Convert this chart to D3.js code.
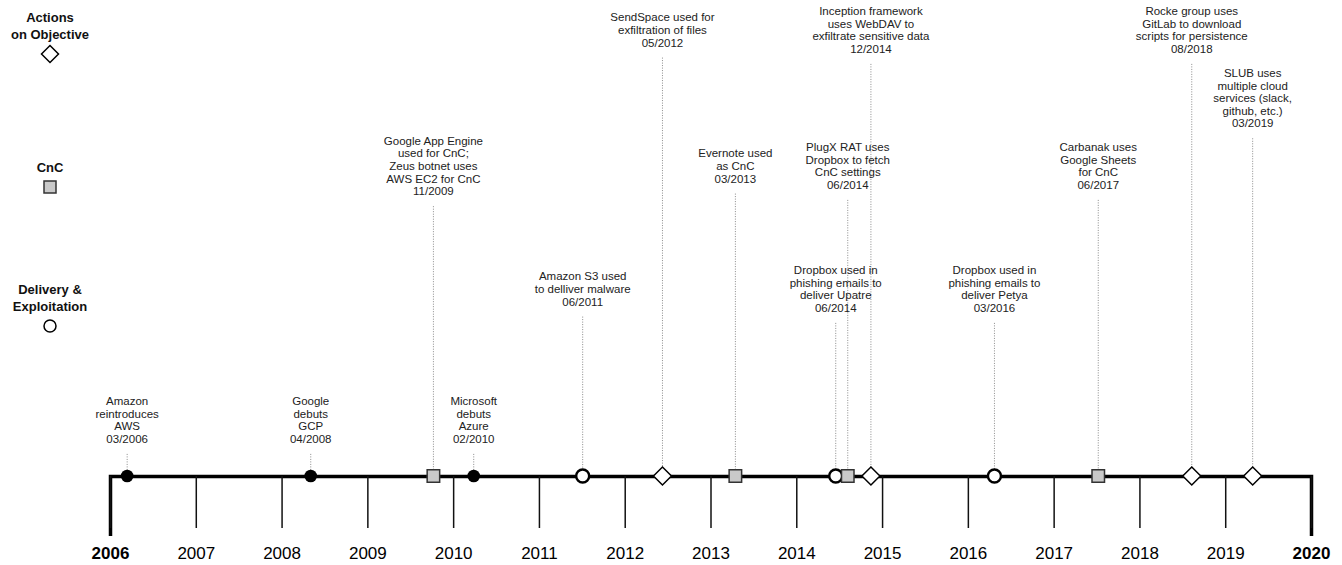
<!DOCTYPE html>
<html>
<head>
<meta charset="utf-8">
<script src="https://cdn.jsdelivr.net/npm/d3@7"></script>
<style>
body { margin: 0; background: #fff; }
</style>
</head>
<body>
<script>
// Cloud abuse timeline data
var years = d3.range(2006, 2021);
var eventDates = ['03/2006', '04/2008', '11/2009', '02/2010', '06/2011', '05/2012', '03/2013',
	'06/2014', '06/2014', '12/2014', '03/2016', '06/2017', '08/2018', '03/2019'];
// where each marker sits on the axis, in fractional years
var eventPos = [2006.2, 2008.34, 2009.77, 2010.24, 2011.51, 2012.44, 2013.29,
	2014.46, 2014.6, 2014.87, 2016.31, 2017.52, 2018.61, 2019.32];
var eventType = ['platform', 'platform', 'cnc', 'platform', 'delivery', 'actions', 'cnc',
	'delivery', 'cnc', 'actions', 'delivery', 'cnc', 'actions', 'actions'];
var eventText = [
	['Amazon', 'reintroduces', 'AWS'],
	['Google', 'debuts', 'GCP'],
	['Google App Engine', 'used for CnC;', 'Zeus botnet uses', 'AWS EC2 for CnC'],
	['Microsoft', 'debuts', 'Azure'],
	['Amazon S3 used', 'to delliver malware'],
	['SendSpace used for', 'exfiltration of files'],
	['Evernote used', 'as CnC'],
	['Dropbox used in', 'phishing emails to', 'deliver Upatre'],
	['PlugX RAT uses', 'Dropbox to fetch', 'CnC settings'],
	['Inception framework', 'uses WebDAV to', 'exfiltrate sensitive data'],
	['Dropbox used in', 'phishing emails to', 'deliver Petya'],
	['Carbanak uses', 'Google Sheets', 'for CnC'],
	['Rocke group uses', 'GitLab to download', 'scripts for persistence'],
	['SLUB uses', 'multiple cloud', 'services (slack,', 'github, etc.)']
];
var legendTypes = ['actions', 'cnc', 'delivery'];
var legendText = [['Actions', 'on Objective'], ['CnC'], ['Delivery &', 'Exploitation']];

// Layout
var w = 1342;
var h = 565;
var axisY = 476;
var lineH = 12.6;
var font = '"Liberation Sans", Arial, Helvetica, sans-serif';
// vertical centre of the label block for each row
var rowY = { actions: 30, cnc: 166, delivery: 289, platform: 420 };
var legendY = { actions: 17, cnc: 167, delivery: 289 };

var svg = d3.select('body')
	.append('svg')
	.attr('width', w)
	.attr('height', h)
	.style('font-family', font);

var x = d3.scaleLinear()
	.domain([2006, 2020])
	.range([110, 1311]);

var events = eventPos.map(function(p, i) {
	return { pos: p, date: eventDates[i], type: eventType[i], lines: eventText[i].concat([eventDates[i]]) };
});

// Marker shapes
function drawMarker(sel, type, big) {
	if (type === 'platform') {
		sel.append('circle').attr('r', 6.3).attr('fill', '#000');
	} else if (type === 'delivery') {
		sel.append('circle').attr('r', big ? 6.5 : 6)
			.attr('fill', '#fff').attr('stroke', '#000').attr('stroke-width', big ? 2.4 : 1.5);
	} else if (type === 'cnc') {
		var s = big ? 12.5 : 12;
		sel.append('rect').attr('x', -s / 2).attr('y', -s / 2).attr('width', s).attr('height', s)
			.attr('fill', '#c9c9c9').attr('stroke', '#333').attr('stroke-width', 1.5);
	} else {
		var d = big ? 9 : 8.5;
		sel.append('path').attr('d', 'M0,' + (-d) + 'L' + d + ',0L0,' + d + 'L' + (-d) + ',0Z')
			.attr('fill', '#fff').attr('stroke', '#000').attr('stroke-width', 1.5);
	}
}

// Legend
legendTypes.forEach(function(t, i) {
	var g = svg.append('g').attr('transform', 'translate(50,0)');
	legendText[i].forEach(function(s, j) {
		g.append('text')
			.attr('x', 0)
			.attr('y', legendY[t] + j * 17)
			.attr('dy', '0.35em')
			.attr('text-anchor', 'middle')
			.attr('font-size', '13px')
			.attr('font-weight', 'bold')
			.attr('fill', '#111')
			.text(s);
	});
	var my = legendY[t] + (legendText[i].length - 1) * 17 + 20;
	drawMarker(g.append('g').attr('transform', 'translate(0,' + my + ')'), t, false);
});

// Annotation labels
var labels = svg.append('g');
var lastByType = {};
events.forEach(function(e) {
	var n = e.lines.length;
	e.top = rowY[e.type] - (n - 1) / 2 * lineH;
	var g = labels.append('g');
	var txt = g.selectAll('text')
		.data(e.lines)
		.enter()
		.append('text')
		.attr('x', x(e.pos))
		.attr('text-anchor', 'middle')
		.attr('dy', '0.35em')
		.attr('font-size', '11.5px')
		.attr('fill', '#222')
		.text(function(d) { return d; });
	var wMax = 0;
	txt.each(function() { wMax = Math.max(wMax, this.getComputedTextLength()); });
	e.x0 = x(e.pos) - wMax / 2;
	e.x1 = x(e.pos) + wMax / 2;
	// push down when it runs into the previous label of the same row
	var prev = lastByType[e.type];
	if (prev && e.x0 < prev.x1 + 4) {
		e.top = prev.top + (prev.lines.length - 1) * lineH + 24;
	}
	txt.attr('y', function(d, i) { return e.top + i * lineH; });
	e.bottom = e.top + (n - 1) * lineH;
	lastByType[e.type] = e;
});

// Dotted leader lines
svg.insert('g', ':first-child')
	.selectAll('line')
	.data(events)
	.enter()
	.append('line')
	.attr('x1', function(d) { return x(d.pos); })
	.attr('x2', function(d) { return x(d.pos); })
	.attr('y1', function(d) { return d.bottom + 15; })
	.attr('y2', axisY)
	.attr('stroke', '#8a8a8a')
	.attr('stroke-width', 1)
	.attr('stroke-dasharray', '1,1.5');

// Year axis
var axis = d3.axisBottom(x)
	.tickValues(years)
	.tickFormat(d3.format('d'))
	.tickSizeInner(52)
	.tickSizeOuter(60)
	.tickPadding(19);

var ag = svg.append('g')
	.attr('transform', 'translate(0,' + axisY + ')')
	.call(axis);

ag.select('.domain')
	.attr('stroke', '#000')
	.attr('stroke-width', 3.5)
	.attr('stroke-linejoin', 'miter');
ag.selectAll('.tick line')
	.attr('stroke', '#111')
	.attr('stroke-width', 1.5);
ag.selectAll('.tick text')
	.attr('font-family', font)
	.attr('font-size', '17px')
	.attr('fill', '#000')
	.attr('font-weight', function(d) { return (d === 2006 || d === 2020) ? 'bold' : 'normal'; });

// Event markers on the axis
svg.append('g')
	.selectAll('g')
	.data(events)
	.enter()
	.append('g')
	.attr('transform', function(d) { return 'translate(' + x(d.pos) + ',' + axisY + ')'; })
	.each(function(d) { drawMarker(d3.select(this), d.type, true); });
</script>
</body>
</html>
